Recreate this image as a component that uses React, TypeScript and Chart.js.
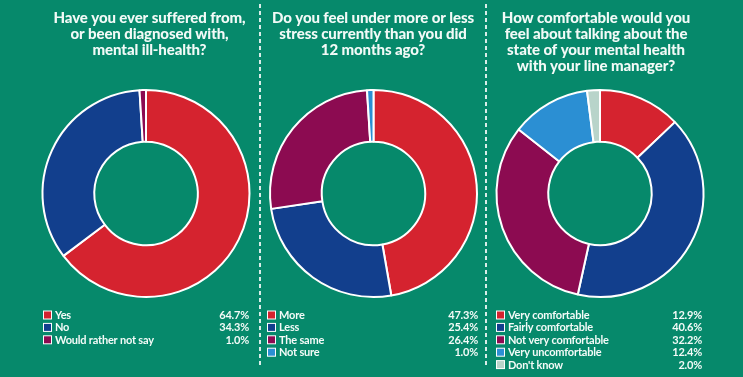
import React, { useEffect, useRef } from "react";
import { Chart, registerables } from "chart.js";

Chart.register(...registerables);

// ---- Data ----
const q1Title = ["Have you ever suffered from,", "or been diagnosed with,", "mental ill-health?"];
const q1Labels = ["Yes", "No", "Would rather not say"];
const q1Values = [64.7, 34.3, 1.0];

const q2Title = ["Do you feel under more or less", "stress currently than you did", "12 months ago?"];
const q2Labels = ["More", "Less", "The same", "Not sure"];
const q2Values = [47.3, 25.4, 26.4, 1.0];

const q3Title = ["How comfortable would you", "feel about talking about the", "state of your mental health", "with your line manager?"];
const q3Labels = ["Very comfortable", "Fairly comfortable", "Not very comfortable", "Very uncomfortable", "Don't know"];
const q3Values = [12.9, 40.6, 32.2, 12.4, 2.0];

const q1Colors = ["#d5232f", "#123f8d", "#8c0b51"];
const q2Colors = ["#d5232f", "#123f8d", "#8c0b51", "#2b8fd3"];
const q3Colors = ["#d5232f", "#123f8d", "#8c0b51", "#2b8fd3", "#b8d4ca"];

const BG = "#06896b";
const H = 377;

type Cfg = {
  title: string[];
  labels: string[];
  values: number[];
  colors: string[];
  panelLeft: number;
  panelWidth: number;
  cx: number;
  titleCx: number;
  legendLeft: number;
  legendRight: number;
};

const charts: Cfg[] = [
  { title: q1Title, labels: q1Labels, values: q1Values, colors: q1Colors, panelLeft: 0, panelWidth: 258, cx: 146, titleCx: 149.5, legendLeft: 43, legendRight: 249 },
  { title: q2Title, labels: q2Labels, values: q2Values, colors: q2Colors, panelLeft: 262, panelWidth: 223, cx: 373.5, titleCx: 373, legendLeft: 267, legendRight: 478 },
  { title: q3Title, labels: q3Labels, values: q3Values, colors: q3Colors, panelLeft: 488, panelWidth: 255, cx: 600, titleCx: 596, legendLeft: 496, legendRight: 702 },
];

function Donut({ cfg }: { cfg: Cfg }) {
  const ref = useRef<HTMLCanvasElement | null>(null);
  useEffect(() => {
    if (!ref.current) return;
    const half = 104.5;
    const padL = cfg.cx - cfg.panelLeft - half;
    const padR = cfg.panelLeft + cfg.panelWidth - (cfg.cx + half);
    const textPlugin = {
      id: "textPlugin",
      afterDraw(chart: any) {
        const ctx = chart.ctx as CanvasRenderingContext2D;
        ctx.save();
        // titles
        ctx.fillStyle = "#f2faf7";
        ctx.font = "900 15px Lato";
        (ctx as any).letterSpacing = "-0.1px";
        ctx.textAlign = "center";
        ctx.textBaseline = "middle";
        cfg.title.forEach((line, i) => {
          ctx.fillText(line, cfg.titleCx - cfg.panelLeft, 18 + i * 16);
        });
        // legend
        ctx.font = "bold 11px Lato";
        (ctx as any).letterSpacing = "-0.2px";
        cfg.labels.forEach((lab, i) => {
          const y = 315 + i * 12.4;
          const x0 = cfg.legendLeft - cfg.panelLeft;
          ctx.fillStyle = "#ffffff";
          ctx.fillRect(x0, y - 4.5, 9, 9);
          ctx.fillStyle = cfg.colors[i];
          ctx.fillRect(x0 + 1, y - 3.5, 7, 7);
          ctx.fillStyle = "#f4fbf8";
          ctx.textAlign = "left";
          ctx.fillText(lab, x0 + 12, y + 0.5);
          ctx.textAlign = "right";
          ctx.fillText(cfg.values[i].toFixed(1) + "%", cfg.legendRight - cfg.panelLeft, y + 0.5);
        });
        ctx.restore();
      },
    };
    const chart = new Chart(ref.current, {
      type: "doughnut",
      data: {
        labels: cfg.labels,
        datasets: [
          {
            data: cfg.values,
            backgroundColor: cfg.colors,
            borderColor: "#ffffff",
            borderWidth: 2,
          },
        ],
      },
      options: {
        responsive: false,
        animation: false,
        cutout: "50%",
        layout: { padding: { top: 89, bottom: H - 89 - 209, left: padL, right: padR } },
        plugins: { legend: { display: false }, tooltip: { enabled: false }, title: { display: false } },
      },
      plugins: [textPlugin],
    });
    return () => chart.destroy();
  }, [cfg]);
  return (
    <canvas
      ref={ref}
      width={cfg.panelWidth}
      height={H}
      style={{ position: "absolute", left: cfg.panelLeft, top: 0, width: cfg.panelWidth, height: H }}
    />
  );
}

const dash = "repeating-linear-gradient(to bottom, rgba(255,255,255,0.85) 0px, rgba(255,255,255,0.85) 4px, transparent 4px, transparent 7px)";

export default function App() {
  return (
    <div style={{ position: "fixed", left: 0, top: 0, width: 743, height: H, background: BG, overflow: "hidden" }}>
      <div style={{ position: "absolute", left: 259, top: 4, width: 2, height: 364, background: dash }} />
      <div style={{ position: "absolute", left: 485, top: 4, width: 2, height: 364, background: dash }} />
      {charts.map((c, i) => (
        <Donut key={i} cfg={c} />
      ))}
    </div>
  );
}
